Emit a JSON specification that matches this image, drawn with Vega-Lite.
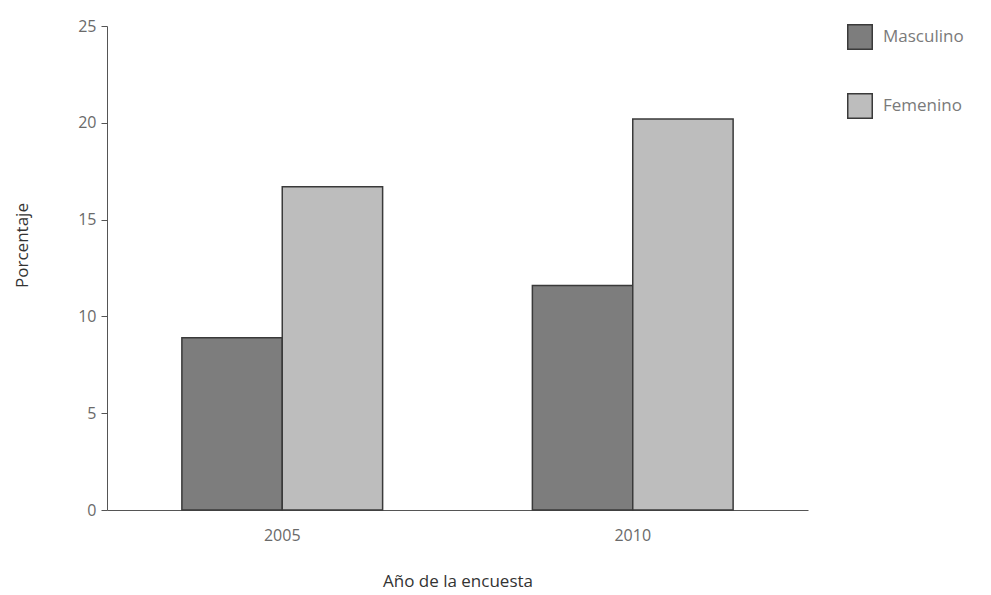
{
  "$schema": "https://vega.github.io/schema/vega-lite/v6.json",
  "width": 701,
  "height": 484,
  "autosize": {"type": "none"},
  "padding": {"left": 107, "top": 26, "right": 183, "bottom": 85},
  "background": "white",
  "config": {
    "view": {"stroke": null},
    "font": "Open Sans",
    "axis": {"grid": false, "domainColor": "#555", "tickColor": "#555", "labelColor": "#6a6a6a", "titleColor": "#333", "labelFont": "Open Sans", "titleFont": "Open Sans", "labelFontWeight": "normal", "titleFontWeight": "normal"}
  },
  "data": {
    "values": [
      {"anio": "2005", "sexo": "Masculino", "pct": 8.9},
      {"anio": "2005", "sexo": "Femenino", "pct": 16.7},
      {"anio": "2010", "sexo": "Masculino", "pct": 11.6},
      {"anio": "2010", "sexo": "Femenino", "pct": 20.2}
    ]
  },
  "mark": {"type": "bar", "stroke": "#3a3a3a", "strokeWidth": 1.5},
  "encoding": {
    "x": {
      "field": "anio", "type": "nominal",
      "scale": {"paddingInner": 0, "paddingOuter": 0},
      "axis": {"title": "Año de la encuesta", "labelAngle": 0, "ticks": false, "labelPadding": 17, "labelFontSize": 16, "titleFontSize": 17, "titlePadding": 30}
    },
    "xOffset": {
      "field": "sexo", "type": "nominal",
      "sort": ["Masculino", "Femenino"],
      "scale": {"paddingInner": 0, "paddingOuter": 0.746}
    },
    "y": {
      "field": "pct", "type": "quantitative",
      "scale": {"domain": [0, 25], "nice": false},
      "axis": {"title": "Porcentaje", "values": [0, 5, 10, 15, 20, 25], "tickSize": 6, "labelPadding": 5, "labelFontSize": 16, "titleFontSize": 17, "titleAngle": -90, "titleX": -80, "titleY": 219, "titleAlign": "center", "titleBaseline": "alphabetic"}
    },
    "color": {
      "field": "sexo", "type": "nominal",
      "sort": ["Masculino", "Femenino"],
      "scale": {"domain": ["Masculino", "Femenino"], "range": ["#7d7d7d", "#bdbdbd"]},
      "legend": {"title": null, "orient": "none", "legendX": 740, "legendY": -2, "symbolType": "square", "symbolSize": 600, "symbolStrokeColor": "#3a3a3a", "symbolStrokeWidth": 1.5, "rowPadding": 37, "labelFontSize": 17, "labelColor": "#7a7a7a", "labelFontWeight": "normal", "labelOffset": 10}
    }
  }
}
